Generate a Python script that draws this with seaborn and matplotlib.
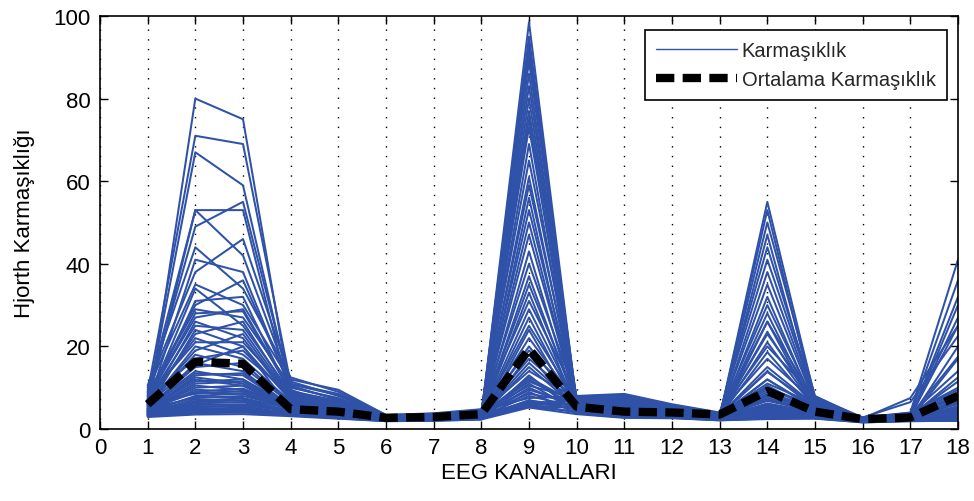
import matplotlib
matplotlib.use("Agg")
import matplotlib.pyplot as plt
import seaborn as sns
import pandas as pd
from matplotlib.lines import Line2D

# EEG channel numbers on the x axis
channels = list(range(1, 19))

# Hjorth complexity per recording (one row per recording, one value per channel)
subjects = [
    [5.2, 12, 10.5, 5.5, 4.2, 2.6, 2.8, 3.2, 98.5, 6.0, 4.5, 3.8, 3.0, 8.5, 4.0, 2.2, 2.6, 6.2],
    [4.8, 24, 20, 4.9, 3.8, 2.4, 2.6, 3.4, 95, 5.2, 4.0, 3.5, 2.8, 47, 5.0, 2.0, 2.4, 3.5],
    [6.5, 8.5, 9.2, 6.2, 5.0, 2.8, 3.0, 3.6, 93, 6.5, 5.2, 4.2, 3.2, 12, 4.8, 2.4, 3.0, 25],
    [4.0, 80, 75, 8.0, 4.5, 2.5, 2.4, 2.9, 91, 5.5, 4.4, 3.6, 2.7, 5.4, 3.6, 2.1, 2.3, 4.0],
    [7.2, 17, 19, 7.5, 6.0, 3.0, 3.2, 3.9, 89, 7.0, 6.2, 4.8, 3.4, 30, 6.0, 2.5, 3.2, 11.5],
    [3.8, 6.8, 7.4, 4.2, 3.4, 2.2, 2.3, 2.8, 86, 4.6, 3.6, 3.2, 2.6, 4.2, 3.2, 1.9, 2.2, 2.7],
    [5.8, 41, 38, 9.5, 5.5, 2.7, 2.9, 3.3, 83, 6.2, 5.0, 4.0, 3.1, 18.6, 5.4, 2.3, 2.9, 8.0],
    [4.5, 11, 11.5, 5.0, 4.0, 2.5, 2.7, 3.1, 80, 5.8, 4.8, 3.9, 2.9, 55, 7.5, 2.2, 2.5, 3.2],
    [8.5, 29, 27, 10.5, 7.0, 3.2, 3.4, 4.2, 77, 7.5, 7.0, 5.2, 3.6, 9.5, 5.6, 2.6, 3.5, 36],
    [3.5, 5.5, 5.5, 3.8, 3.0, 2.1, 2.2, 2.6, 75, 4.2, 3.3, 3.0, 2.4, 3.6, 3.0, 1.8, 2.1, 2.4],
    [6.0, 53, 53, 7.0, 5.2, 2.8, 3.0, 3.5, 73, 6.6, 5.5, 4.4, 3.2, 23.5, 5.2, 2.4, 2.8, 5.5],
    [4.2, 9.5, 9.0, 4.6, 3.6, 2.3, 2.5, 3.0, 69, 5.0, 4.2, 3.4, 2.7, 7.2, 4.0, 2.0, 2.4, 17],
    [9.5, 35, 30, 11.5, 8.0, 3.3, 3.6, 4.5, 65, 7.8, 7.8, 5.5, 3.8, 41, 7.0, 2.7, 3.8, 4.6],
    [5.0, 7.5, 8.0, 5.2, 4.4, 2.6, 2.7, 3.2, 61, 5.6, 4.6, 3.8, 3.0, 6.0, 4.2, 2.2, 2.6, 3.8],
    [7.8, 21, 21, 8.5, 6.5, 3.1, 3.3, 3.8, 59, 7.2, 6.0, 4.6, 3.3, 13.8, 5.8, 2.5, 3.3, 9.0],
    [3.6, 4.6, 4.6, 3.5, 2.8, 2.0, 2.1, 2.5, 56, 4.0, 3.0, 2.8, 2.3, 3.3, 2.8, 1.7, 2.0, 2.2],
    [6.8, 67, 59, 9.0, 5.8, 2.9, 3.1, 3.7, 53, 6.8, 5.8, 4.5, 3.3, 35, 6.2, 2.4, 3.0, 7.0],
    [4.4, 13, 13.5, 5.4, 4.1, 2.4, 2.6, 3.0, 50, 5.3, 4.3, 3.6, 2.8, 10.5, 4.4, 2.1, 2.5, 30],
    [5.5, 26, 22, 6.8, 5.0, 2.7, 2.9, 3.4, 47, 6.3, 5.3, 4.1, 3.1, 5.0, 4.6, 2.3, 2.8, 4.4],
    [3.3, 6.2, 6.5, 4.0, 3.2, 2.2, 2.3, 2.7, 43, 4.5, 3.5, 3.1, 2.5, 26, 4.5, 1.9, 2.2, 2.6],
    [8.0, 49, 55, 10.0, 7.5, 3.2, 3.5, 4.0, 40, 7.6, 7.2, 5.0, 3.5, 8.0, 5.5, 2.6, 3.6, 14],
    [4.7, 10, 10.5, 4.8, 3.9, 2.5, 2.6, 3.1, 37, 5.4, 4.4, 3.7, 2.8, 4.6, 3.8, 2.1, 2.5, 3.3],
    [6.2, 31, 32, 8.2, 6.2, 3.0, 3.2, 3.7, 35, 6.9, 6.4, 4.7, 3.3, 50, 8.0, 2.5, 3.3, 6.5],
    [3.9, 5.8, 6.0, 4.4, 3.5, 2.3, 2.4, 2.9, 33, 4.8, 3.8, 3.3, 2.6, 3.8, 3.4, 2.0, 2.3, 2.9],
    [10.5, 44, 34, 12.5, 9.0, 3.4, 3.8, 4.8, 31, 8.0, 8.5, 6.0, 4.0, 17, 6.5, 2.8, 6.5, 22.5],
    [5.3, 15, 16, 6.0, 4.6, 2.6, 2.8, 3.3, 29, 6.0, 5.0, 4.0, 3.0, 6.8, 4.3, 2.2, 2.7, 5.0],
    [4.1, 8.0, 8.6, 4.7, 3.7, 2.4, 2.5, 3.0, 27, 5.1, 4.1, 3.5, 2.7, 32, 5.2, 2.1, 2.4, 3.1],
    [7.0, 25, 24, 7.8, 5.9, 2.9, 3.1, 3.6, 25, 6.7, 5.6, 4.3, 3.2, 9.0, 4.9, 2.4, 2.9, 8.5],
    [3.4, 4.2, 4.2, 3.6, 2.9, 2.1, 2.2, 2.5, 24, 4.1, 3.1, 2.9, 2.3, 3.0, 2.9, 1.8, 2.0, 2.3],
    [5.9, 19, 23, 7.2, 5.6, 2.8, 3.0, 3.5, 22, 6.4, 5.4, 4.2, 3.1, 21, 5.3, 2.3, 2.8, 32],
    [4.6, 12.5, 11, 5.1, 4.0, 2.5, 2.6, 3.1, 20, 5.5, 4.5, 3.7, 2.8, 7.6, 4.1, 2.1, 2.5, 4.2],
    [9.0, 71, 69, 11.0, 8.5, 3.3, 3.6, 4.3, 19, 7.7, 8.0, 5.6, 3.7, 44, 7.2, 2.7, 3.9, 10],
    [3.7, 5.0, 5.0, 3.9, 3.1, 2.2, 2.3, 2.7, 18, 4.3, 3.4, 3.1, 2.5, 3.5, 3.1, 1.9, 2.2, 2.5],
    [6.6, 34, 25, 8.8, 6.4, 3.0, 3.2, 3.8, 17, 7.1, 6.2, 4.6, 3.3, 15, 5.7, 2.5, 3.1, 6.0],
    [5.1, 9.0, 9.8, 5.3, 4.3, 2.6, 2.7, 3.2, 16, 5.7, 4.7, 3.9, 2.9, 28, 4.7, 2.2, 2.6, 3.6],
    [4.3, 16, 14, 5.6, 4.2, 2.4, 2.6, 3.0, 15, 5.2, 4.3, 3.6, 2.8, 5.8, 3.9, 2.1, 2.5, 20],
    [7.5, 27, 29, 9.2, 6.8, 3.1, 3.3, 3.9, 14, 7.3, 6.6, 4.8, 3.4, 11, 6.0, 2.6, 3.4, 7.5],
    [3.2, 4.4, 4.8, 3.4, 2.7, 2.0, 2.1, 2.4, 13, 3.9, 3.0, 2.8, 2.2, 2.8, 2.7, 1.7, 2.0, 2.1],
    [5.6, 20, 17, 6.6, 5.1, 2.7, 2.9, 3.4, 12.5, 6.1, 5.1, 4.0, 3.0, 38, 6.4, 2.3, 2.7, 5.2],
    [4.9, 11.5, 12, 5.0, 4.1, 2.5, 2.7, 3.1, 12, 5.4, 4.4, 3.7, 2.9, 4.4, 3.7, 2.1, 2.4, 3.4],
    [6.3, 23, 26, 7.9, 6.0, 2.9, 3.1, 3.6, 11.5, 6.8, 5.9, 4.4, 3.2, 12, 5.1, 2.4, 3.0, 27],
    [3.5, 6.5, 7.0, 4.1, 3.3, 2.2, 2.3, 2.8, 11, 4.4, 3.5, 3.1, 2.5, 5.2, 3.3, 1.9, 2.2, 2.8],
    [8.8, 53, 42, 10.8, 8.2, 3.3, 3.5, 4.1, 10.5, 7.4, 7.5, 5.3, 3.6, 26, 6.8, 2.7, 3.7, 9.5],
    [4.4, 7.8, 7.5, 4.9, 3.8, 2.4, 2.5, 3.0, 10, 5.0, 4.0, 3.5, 2.7, 6.2, 3.9, 2.0, 2.4, 3.0],
    [5.7, 18, 15, 6.3, 4.8, 2.7, 2.8, 3.3, 9.5, 5.9, 4.9, 3.9, 2.9, 53, 5.9, 2.3, 2.7, 4.8],
    [3.1, 3.8, 4.0, 3.3, 2.6, 1.9, 2.0, 2.3, 9.0, 3.8, 2.8, 2.7, 2.1, 2.6, 2.6, 1.6, 1.9, 2.0],
    [6.9, 22, 18, 8.4, 6.3, 3.0, 3.2, 3.7, 8.5, 6.6, 5.7, 4.3, 3.2, 14, 5.0, 2.4, 3.0, 12.5],
    [4.8, 8.8, 8.5, 5.0, 4.0, 2.5, 2.6, 3.1, 8.0, 5.3, 4.3, 3.6, 2.8, 4.8, 3.8, 2.1, 2.5, 3.3],
    [10.0, 38, 46, 12.0, 9.5, 3.4, 3.7, 4.6, 7.5, 7.9, 8.3, 5.8, 3.9, 20, 7.8, 2.8, 4.0, 41],
    [3.9, 5.2, 5.8, 4.3, 3.5, 2.3, 2.4, 2.9, 7.0, 4.7, 3.7, 3.3, 2.6, 3.9, 3.4, 2.0, 2.3, 2.6],
    [5.4, 14, 12, 5.7, 4.5, 2.6, 2.8, 3.2, 6.8, 5.8, 4.8, 3.9, 2.9, 8.2, 4.3, 2.2, 2.6, 4.6],
    [4.0, 7.2, 6.8, 4.5, 3.6, 2.3, 2.4, 2.9, 6.5, 4.9, 3.9, 3.4, 2.6, 3.2, 3.5, 2.0, 2.3, 2.9],
    [7.3, 28, 28.5, 9.0, 6.6, 3.0, 3.3, 3.8, 6.2, 7.0, 6.1, 4.5, 3.3, 10, 5.5, 2.5, 3.2, 17.5],
    [3.4, 4.0, 4.4, 3.5, 2.8, 2.0, 2.1, 2.5, 6.0, 4.0, 2.9, 2.8, 2.2, 2.5, 2.7, 1.7, 2.0, 2.1],
    [6.1, 15.5, 20, 6.9, 5.3, 2.8, 3.0, 3.5, 5.8, 6.2, 5.2, 4.1, 3.0, 7.0, 4.5, 2.3, 2.8, 6.8],
    [4.5, 10.5, 9.5, 4.8, 3.9, 2.4, 2.6, 3.0, 5.6, 5.1, 4.1, 3.5, 2.7, 4.0, 3.6, 2.0, 2.4, 3.0],
    [8.2, 30, 36, 10.2, 7.2, 3.2, 3.4, 4.0, 5.5, 7.5, 7.0, 5.0, 3.5, 23, 6.6, 2.6, 7.5, 25],
    [3.6, 4.8, 5.2, 3.7, 3.0, 2.1, 2.2, 2.6, 5.4, 4.2, 3.2, 3.0, 2.4, 2.9, 2.8, 1.8, 2.1, 2.2],
    [5.0, 13.5, 13, 5.4, 4.3, 2.6, 2.7, 3.2, 5.3, 5.6, 4.6, 3.8, 2.9, 5.6, 4.1, 2.2, 2.6, 3.9],
    [2.9, 3.5, 3.6, 3.1, 2.5, 1.9, 2.0, 2.3, 5.2, 3.6, 2.7, 2.6, 2.1, 2.4, 2.5, 1.6, 1.9, 2.0],
]

# Average complexity per channel
mean_complexity = [6.0, 16.3, 15.8, 4.8, 4.2, 2.7, 2.9, 3.6, 19.4,
                   5.4, 4.2, 4.0, 3.5, 9.2, 4.2, 2.4, 2.8, 8.0]

x_ticks = list(range(0, 19))
y_ticks = [0, 20, 40, 60, 80, 100]

series_labels = ["Karmaşıklık", "Ortalama Karmaşıklık"]

sns.set_theme(style="white")
plt.rcParams["font.family"] = ["Liberation Sans", "DejaVu Sans"]

LINE_BLUE = "#2F52A8"

long_rows = []
for sid, vals in enumerate(subjects):
    for ch, v in zip(channels, vals):
        long_rows.append({"kayit": sid, "kanal": ch, "karmasiklik": v})
df = pd.DataFrame(long_rows)
mean_df = pd.DataFrame({"kanal": channels, "karmasiklik": mean_complexity})

fig = plt.figure(figsize=(9.74, 5.02), dpi=100)
ax = fig.add_axes([100 / 974, 72 / 502, 858 / 974, 413 / 502])

sns.lineplot(data=df, x="kanal", y="karmasiklik", units="kayit", estimator=None,
             color=LINE_BLUE, linewidth=1.45, ax=ax, legend=False, zorder=2)
sns.lineplot(data=mean_df, x="kanal", y="karmasiklik", color="black",
             linewidth=6.0, ax=ax, legend=False, zorder=3)
mean_line = ax.get_lines()[-1]
mean_line.set_dashes((2.2, 1.0))
mean_line.set_dash_capstyle("butt")

ax.set_xlim(0, 18)
ax.set_ylim(0, 100)
ax.set_xticks(x_ticks)
ax.set_yticks(y_ticks)
ax.set_xticklabels([str(t) for t in x_ticks])
ax.set_yticklabels([str(t) for t in y_ticks])

ax.set_axisbelow(True)
ax.xaxis.grid(True, linestyle=(0, (1, 6)), color="black", linewidth=1.0)
ax.yaxis.grid(False)

for sp in ax.spines.values():
    sp.set_color("black")
    sp.set_linewidth(1.2)
    sp.set_visible(True)

ax.tick_params(axis="both", which="major", direction="in", length=6, width=1.0,
               bottom=True, left=True, top=True, right=True,
               labelsize=16, colors="black")
ax.tick_params(axis="x", pad=6)
ax.tick_params(axis="y", pad=7)

ax.set_xlabel("EEG KANALLARI", fontsize=16, color="black", labelpad=3)
ax.set_ylabel("Hjorth Karmaşıklığı", fontsize=16, color="black", labelpad=13)

handles = [
    Line2D([], [], color=LINE_BLUE, linewidth=1.0),
    Line2D([], [], color="black", linewidth=6.0, dashes=(2.2, 1.0)),
]
leg = ax.legend(handles, series_labels, loc="upper right",
                bbox_to_anchor=(0.987, 0.966), bbox_transform=ax.transAxes,
                borderaxespad=0, fontsize=14.5, handlelength=4.0,
                handletextpad=0.25, borderpad=0.55, labelspacing=0.5,
                frameon=True, fancybox=False, framealpha=1, edgecolor="black")
leg.get_frame().set_linewidth(1.2)

fig.savefig("out.png", dpi=100, facecolor="white")
